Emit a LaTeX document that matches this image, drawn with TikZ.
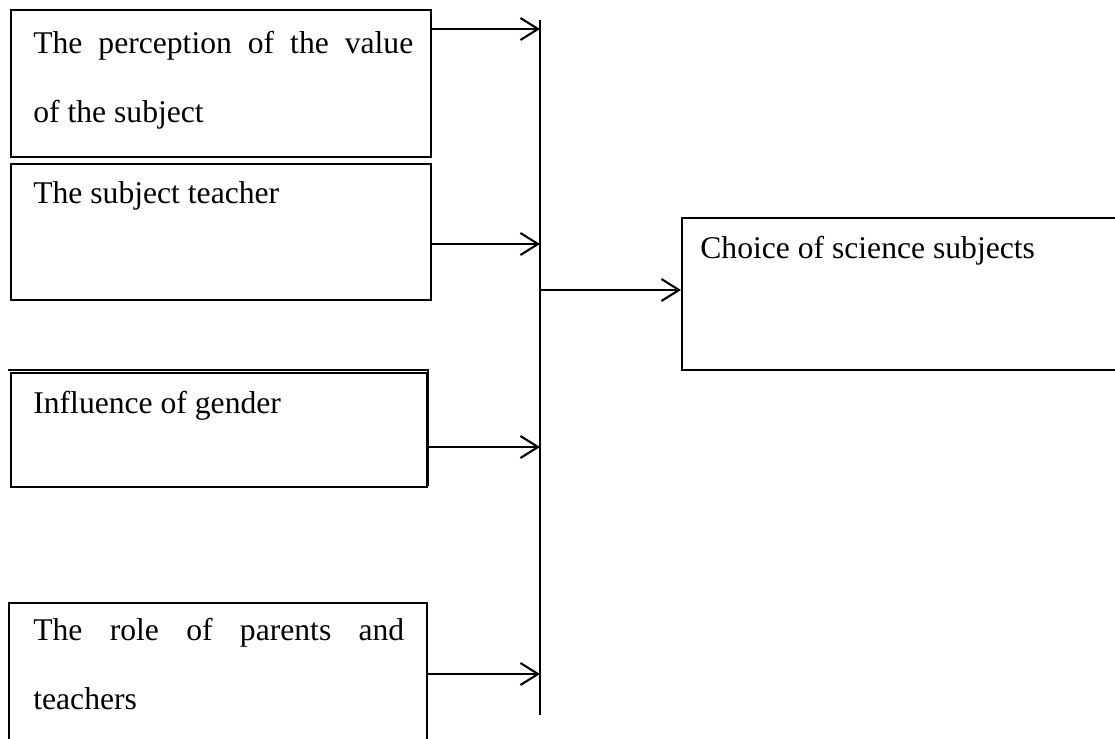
\documentclass[tikz,border=0pt]{standalone}
\usepackage{fontspec}
\setmainfont{Liberation Serif}
\usetikzlibrary{arrows.meta,calc}

\begin{document}
\begin{tikzpicture}[x=0.02cm,y=-0.02cm,
        box/.style={draw,line width=1.2pt,rectangle,inner sep=0pt,anchor=north west},
        txt/.style={inner sep=0pt,anchor=base west,align=justify,font=\fontsize{18}{39.3}\selectfont},
        arr/.style={line width=1.2pt,-{Straight Barb[length=10pt,width=12.5pt,line width=1.2pt]}}]
        \useasboundingbox (0,0) rectangle (1115,738);

        % Factor boxes
        \node[box,minimum width=8.4cm,minimum height=2.94cm] (value) at (10,9) {};
        \node[box,minimum width=8.4cm,minimum height=2.72cm] (teacher) at (10,163) {};
        \node[box,minimum width=8.32cm,minimum height=2.28cm] (gender) at (10,372) {};
        \draw[line width=0.7pt] (8,370) -- (428,370) -- (428,486); % gender double edge
        \node[box,minimum width=8.36cm,minimum height=3.2cm] (parents) at (8,602) {};

        % Box texts
        \node[txt,text width=7.6cm] (valueT) at (33,53) {The perception of the value\linebreak of the subject};
        \node[txt] (teacherT) at (33,203) {The subject teacher};
        \node[txt] (genderT) at (33,413) {Influence of gender};
        \node[txt,text width=7.42cm] (parentsT) at (33,640) {The role of parents and\linebreak teachers};

        % Outcome box
        \node[box,minimum width=9.2cm,minimum height=3.04cm] (choice) at (681,217) {};
        \node[txt] (choiceT) at (700,258) {Choice of science subjects};

        % Collecting line
        \coordinate (busTop) at (540,20);
        \coordinate (busBot) at (540,715);
        \draw[line width=1.2pt] (busTop) -- (busBot);

        % Arrows into the line
        \draw[arr] (value.east |- 0,29) -- (busTop |- 0,29);
        \draw[arr] (teacher.east |- 0,244) -- (busTop |- 0,244);
        \draw[arr] (gender.east |- 0,447) -- (busTop |- 0,447);
        \draw[arr] (parents.east |- 0,674) -- (busTop |- 0,674);

        % Arrow to outcome
        \draw[arr] (busTop |- 0,290) -- (choice.west |- 0,290);
    \end{tikzpicture}
\end{document}
